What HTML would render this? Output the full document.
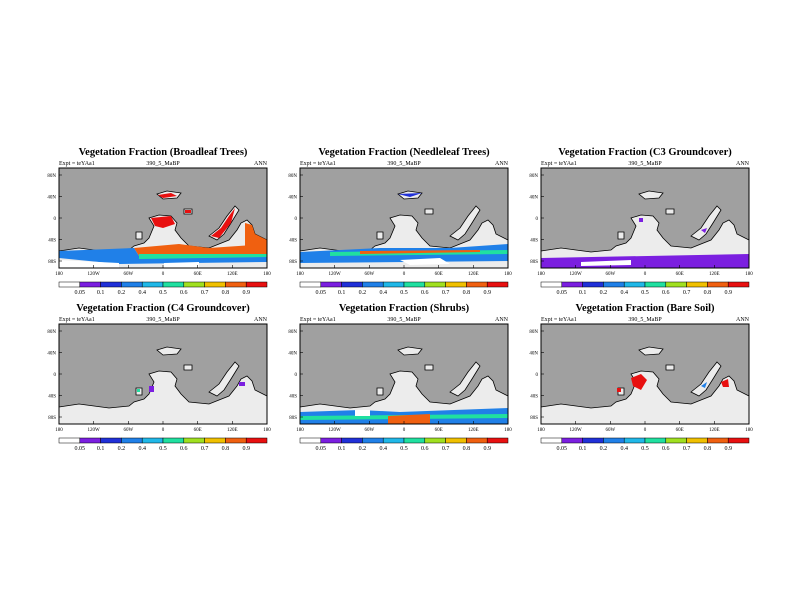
<!DOCTYPE html>
<html><head><meta charset="utf-8"><style>
body{margin:0;background:#fff;width:800px;height:600px;overflow:hidden;font-family:"Liberation Serif",serif}
svg text{font-family:"Liberation Serif",serif}
</style></head><body>
<svg id="chart" width="800" height="600" xmlns="http://www.w3.org/2000/svg"></svg>
<script>
const titles=["Vegetation Fraction (Broadleaf Trees)","Vegetation Fraction (Needleleaf Trees)","Vegetation Fraction (C3 Groundcover)","Vegetation Fraction (C4 Groundcover)","Vegetation Fraction (Shrubs)","Vegetation Fraction (Bare Soil)"];
const levels=["0.05","0.1","0.2","0.4","0.5","0.6","0.7","0.8","0.9"];
const colors=["#ffffff","#7b1fe0","#2030d8","#2080e8","#20b8e8","#20e0a0","#a0e020","#f0c000","#f06010","#e81010"];
const lonTicks=["180","120W","60W","0","60E","120E","180"];
const latTicks=["80N","40N","0","40S","80S"];
const colX=[59,300,541], rowY=[168,324], W=208, H=100;
const land=[
 [[0,83],[20,80],[50,84],[70,82],[75,78],[85,75],[90,70],[95,58],[90,50],[100,47],[112,48],[118,55],[116,62],[122,70],[130,78],[150,80],[160,76],[170,72],[178,62],[182,55],[188,52],[193,57],[196,66],[208,72],[208,100],[0,100]],
 [[98,26],[108,23],[122,25],[118,30],[104,31]],
 [[125,41],[133,41],[133,46],[125,46]],
 [[150,68],[160,60],[168,48],[176,38],[180,42],[172,55],[165,66],[158,72]],
 [[77,64],[83,64],[83,71],[77,71]]
];
const overlays=[
 [[9,[[92,50],[112,48],[116,56],[104,60],[96,58]]],[9,[[152,68],[162,60],[170,48],[176,40],[172,55],[160,70]]],[8,[[186,55],[193,57],[196,66],[208,72],[208,80],[186,82]]],
  [8,[[75,80],[120,76],[150,80],[208,76],[208,88],[120,90],[80,88]]],[3,[[0,83],[75,80],[80,88],[120,90],[208,88],[208,94],[60,96],[0,90]]],[5,[[80,86],[208,86],[208,89],[80,91]]],[0,[[0,92],[60,95],[60,100],[0,100]]],[0,[[105,95],[140,94],[140,100],[105,100]]],[9,[[99,27],[112,25],[118,28],[104,30]]],[9,[[126,42],[132,42],[132,45],[126,45]]]],
 [[3,[[0,84],[80,80],[150,80],[208,76],[208,93],[0,95]]],[5,[[30,84],[208,82],[208,86],[30,88]]],[8,[[60,83],[180,82],[180,84],[60,86]]],[0,[[100,92],[140,90],[150,96],[110,97]]],[2,[[98,26],[122,25],[110,29]]]],
 [[1,[[0,90],[208,86],[208,100],[0,100]]],[0,[[40,94],[90,92],[90,97],[40,98]]],[1,[[98,50],[102,50],[102,54],[98,54]]],[1,[[160,62],[166,60],[164,65]]]],
 [[1,[[90,62],[95,62],[95,68],[90,68]]],[1,[[180,58],[186,58],[186,62],[180,62]]],[5,[[78,65],[81,65],[81,68],[78,68]]]],
 [[3,[[0,88],[60,86],[100,88],[208,84],[208,100],[0,100]]],[5,[[0,92],[208,90],[208,94],[0,96]]],[8,[[88,92],[130,90],[130,100],[88,100]]],[0,[[55,86],[70,86],[70,92],[55,92]]]],
 [[9,[[90,54],[100,50],[106,56],[100,66],[92,62]]],[9,[[180,58],[187,55],[188,63],[182,63]]],[9,[[76,64],[80,64],[80,68],[76,68]]],[3,[[160,62],[166,58],[164,64]]]]
];
const svg=document.getElementById('chart');
const NS="http://www.w3.org/2000/svg";
function mk(tag,attrs,parent){const e=document.createElementNS(NS,tag);for(const k in attrs)e.setAttribute(k,attrs[k]);(parent||svg).appendChild(e);return e;}
function pts(p,ox,oy){return p.map(q=>(ox+q[0])+","+(oy+q[1])).join(" ");}
titles.forEach((t,i)=>{
 const ox=colX[i%3], oy=rowY[Math.floor(i/3)];
 const g=mk('g',{});
 
 
 const tt=mk('text',{x:ox+W/2,y:oy-13,'text-anchor':'middle','font-size':'10.5','font-weight':'bold'},g);tt.textContent=t;
 
 
 const s1=mk('text',{x:ox,y:oy-3,'font-size':'6'},g);s1.textContent="Expt = teYAa1";
 
 
 const s2=mk('text',{x:ox+W/2,y:oy-3,'font-size':'6','text-anchor':'middle'},g);s2.textContent="390_5_MaBP";
 
 
 const s3=mk('text',{x:ox+W,y:oy-3,'font-size':'6','text-anchor':'end'},g);s3.textContent="ANN";
 
 
 mk('rect',{x:ox,y:oy,width:W,height:H,fill:'#a0a0a0'},g);
 land.forEach(p=>{const l=mk('polygon',{points:pts(p,ox,oy),fill:'#ececec',stroke:'#000','stroke-width':'0.8'},g);
  
  });
 overlays[i].forEach(o=>{const c=mk('polygon',{points:pts(o[1],ox,oy),fill:colors[o[0]]},g);
  
  });
 mk('rect',{x:ox,y:oy,width:W,height:H,fill:'none',stroke:'#000','stroke-width':'1'},g);
 lonTicks.forEach((l,j)=>{const x=ox+j*W/(lonTicks.length-1);
  mk('line',{x1:x,y1:oy+H,x2:x,y2:oy+H-3,stroke:'#000','stroke-width':'0.6'},g);
  const tx=mk('text',{x:x,y:oy+H+7,'font-size':'5','text-anchor':'middle'},g);tx.textContent=l;
  
  });
 latTicks.forEach((l,j)=>{const y=oy+7+j*(H-14)/(latTicks.length-1);
  mk('line',{x1:ox,y1:y,x2:ox+3,y2:y,stroke:'#000','stroke-width':'0.6'},g);
  const tx=mk('text',{x:ox-3,y:y+2,'font-size':'5','text-anchor':'end'},g);tx.textContent=l;
  
  });
 const cy=oy+H+14, cw=W/colors.length;
 const cb=mk('g',{},g);
 
 
 colors.forEach((c,k)=>{const r=mk('rect',{x:ox+k*cw,y:cy,width:cw,height:5,fill:c,stroke:'#000','stroke-width':'0.5'},cb);
  
  });
 levels.forEach((l,k)=>{const tx=mk('text',{x:ox+(k+1)*cw,y:cy+12,'font-size':'6','text-anchor':'middle'},cb);tx.textContent=l;
  
  });
});
</script>
</body></html>
